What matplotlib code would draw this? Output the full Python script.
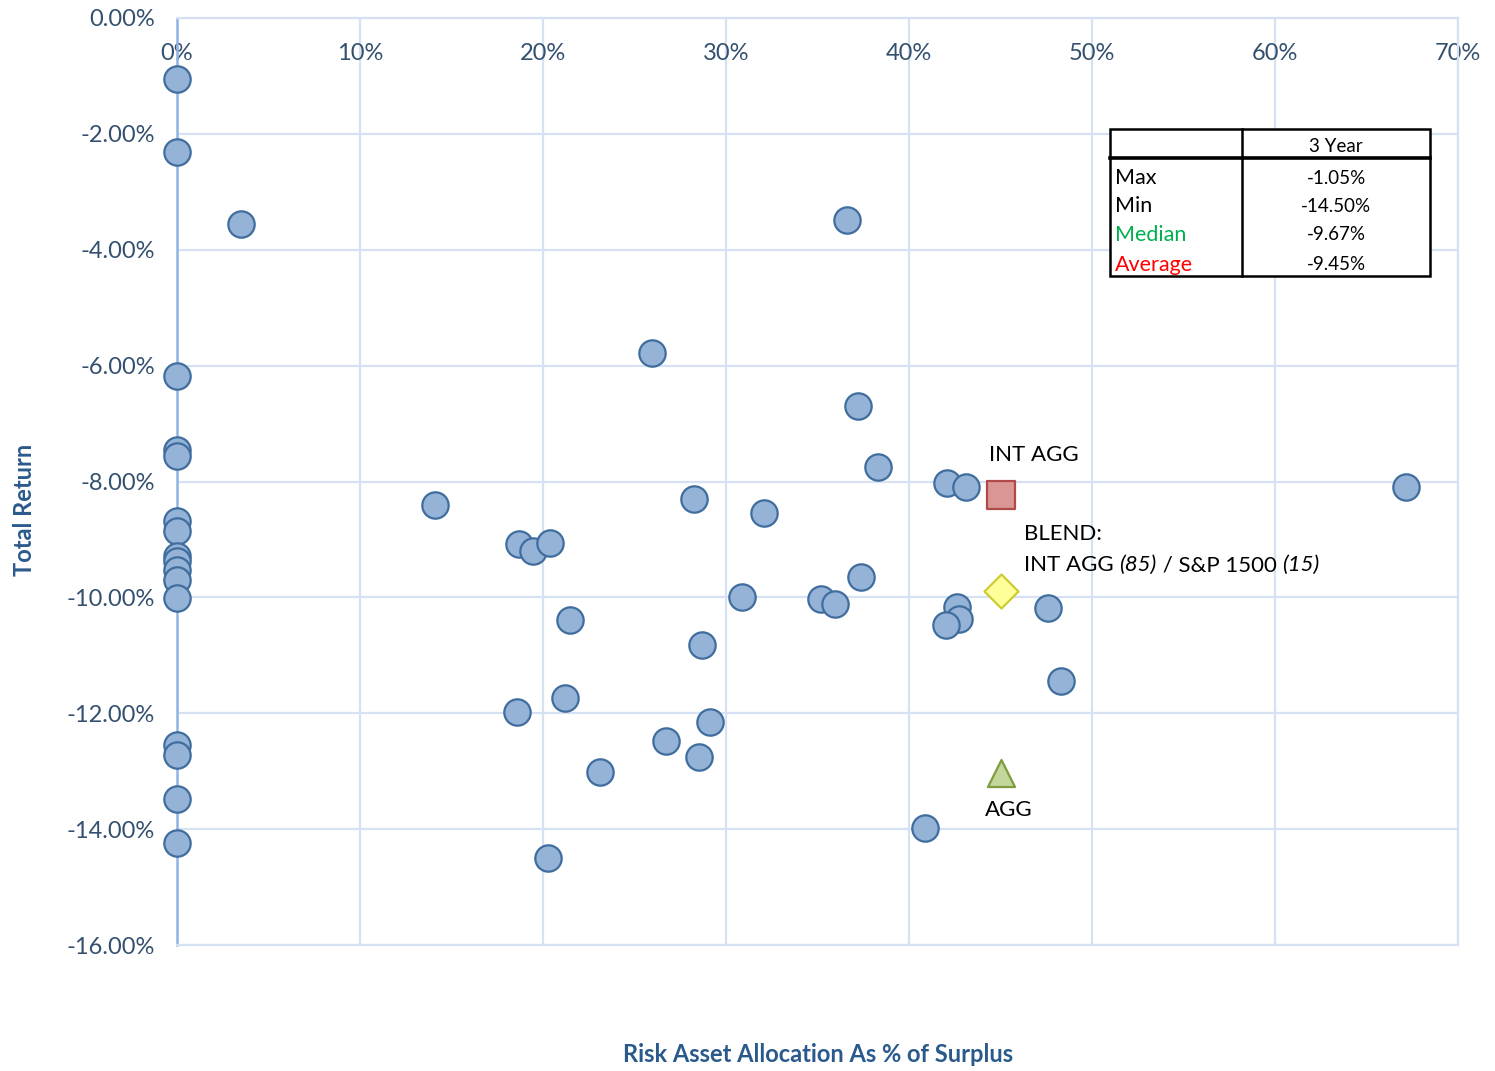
import matplotlib.pyplot as plt
import numpy as np

plt.rcParams['font.family'] = ['Lato', 'DejaVu Sans']

# risk asset allocation (%), total return (%)
alloc = [0, 0, 0, 0, 0, 0, 0, 0, 0, 0, 0, 0, 0, 0, 0, 0,
         3.5, 14.1, 18.7, 19.45, 20.4, 21.5, 18.6, 21.2, 20.3, 23.1,
         25.95, 26.7, 28.25, 28.5, 28.7, 29.1, 30.9, 32.1, 35.2, 35.95,
         36.6, 37.2, 37.4, 38.3, 40.9, 42.1, 43.1, 42.6, 42.75, 42.0,
         47.6, 48.3, 67.15]
ret = [-1.05, -2.31, -6.18, -7.46, -7.56, -8.68, -8.85, -9.29, -9.37, -9.53,
       -9.70, -10.01, -12.55, -12.72, -13.48, -14.24,
       -3.56, -8.41, -9.08, -9.20, -9.06, -10.39, -11.98, -11.74, -14.50, -13.01,
       -5.78, -12.48, -8.30, -12.75, -10.82, -12.15, -9.99, -8.54, -10.03, -10.11,
       -3.49, -6.70, -9.65, -7.75, -13.98, -8.03, -8.09, -10.17, -10.37, -10.48,
       -10.18, -11.44, -8.09]

# benchmarks
int_agg = (45.0, -8.23)
blend = (45.0, -9.89)
agg = (45.0, -13.03)

stat_names = ['Max', 'Min', 'Median', 'Average']
stat_vals = ['-1.05%', '-14.50%', '-9.67%', '-9.45%']
stat_colors = ['black', 'black', '#00b050', '#ff0000']

tick_col = '#34506f'
title_col = '#2a5a8c'
grid_col = '#d6e2f3'

fig = plt.figure(figsize=(14.95, 10.71), dpi=100)
ax = fig.add_axes([177/1495, 1-945/1071, (1458-177)/1495, (945-18)/1071])

ax.scatter(alloc, ret, s=360, c='#95b3d7', edgecolors='#3f6d9e', linewidths=1.6, zorder=3, clip_on=False)
ax.scatter([int_agg[0]], [int_agg[1]], s=420, marker='s', c='#d99694', edgecolors='#b04a48', linewidths=1.6, zorder=3)
ax.scatter([blend[0]], [blend[1]], s=300, marker='D', c='#ffff99', edgecolors='#cccc33', linewidths=1.6, zorder=3)
ax.scatter([agg[0]], [agg[1]], s=380, marker='^', c='#c3d69b', edgecolors='#7f9c3f', linewidths=1.6, zorder=3)

ax.set_xlim(0, 70)
ax.set_ylim(-16, 0)
ax.set_xticks(np.arange(0, 71, 10))
ax.set_xticklabels([f'{v}%' for v in range(0, 71, 10)])
ax.set_yticks(np.arange(-16, 1, 2))
ax.set_yticklabels([f'{v:.2f}%' if v != 0 else '0.00%' for v in np.arange(-16, 1, 2)])
ax.xaxis.set_ticks_position('top')
ax.tick_params(axis='x', length=0, pad=-33, labelsize=17, labelcolor=tick_col)
ax.tick_params(axis='y', length=0, pad=16, labelsize=17, labelcolor=tick_col)
ax.grid(True, color=grid_col, linewidth=1.6, zorder=0)
ax.set_axisbelow(True)
for s in ['right', 'bottom', 'top']:
    ax.spines[s].set_color(grid_col)
    ax.spines[s].set_linewidth(1.6)
ax.spines['left'].set_color('#8eb4e3')
ax.spines['left'].set_linewidth(1.8)

fig.text(25/1495, 1-510/1071, 'Total Return', rotation=90, ha='center', va='center',
         fontsize=17, fontweight='bold', color=title_col)
fig.text(818/1495, 1-1055/1071, 'Risk Asset Allocation As % of Surplus', ha='center', va='center',
         fontsize=17, fontweight='bold', color=title_col)

# labels
ax.annotate('INT AGG', int_agg, xytext=(-8, 29), textcoords='offset points', fontsize=16, va='center')
ax.annotate('AGG', agg, xytext=(-11, -27), textcoords='offset points', fontsize=16, va='center')
ax.annotate('BLEND:', blend, xytext=(17, 41), textcoords='offset points', fontsize=16, va='center')
fig.canvas.draw()
r = fig.canvas.get_renderer()
pieces = [('INT AGG ', 'normal'), ('(85)', 'italic'), (' / S&P 1500 ', 'normal'), ('(15)', 'italic')]
x0 = 1024
for txt, st in pieces:
    t = fig.text(x0/1495, 1-565/1071, txt, fontsize=16, style=st, va='center', ha='left')
    bb = t.get_window_extent(renderer=r)
    x0 = x0 + bb.width

# stats table
L, R, M, T, B, H = 1110, 1430, 1242, 129, 276, 158
def fx(p): return p/1495
def fy(p): return 1-p/1071
fig.add_artist(plt.Rectangle((fx(L), fy(B)), fx(R-L), (B-T)/1071, fill=True, facecolor='white',
                             edgecolor='black', linewidth=1.8, transform=fig.transFigure))
fig.add_artist(plt.Line2D([fx(M), fx(M)], [fy(T), fy(B)], color='black', linewidth=1.8))
fig.add_artist(plt.Line2D([fx(L), fx(R)], [fy(H), fy(H)], color='black', linewidth=2.6))
fig.text(fx((M+R)/2), fy(146), '3 Year', ha='center', va='center', fontsize=13.5)
ys = [178, 206, 235, 265]
for name, val, col, yy in zip(stat_names, stat_vals, stat_colors, ys):
    fig.text(fx(L+5), fy(yy), name, ha='left', va='center', fontsize=15.5, color=col)
    fig.text(fx((M+R)/2), fy(yy), val, ha='center', va='center', fontsize=13.5)

fig.savefig('out.png', dpi=100)
